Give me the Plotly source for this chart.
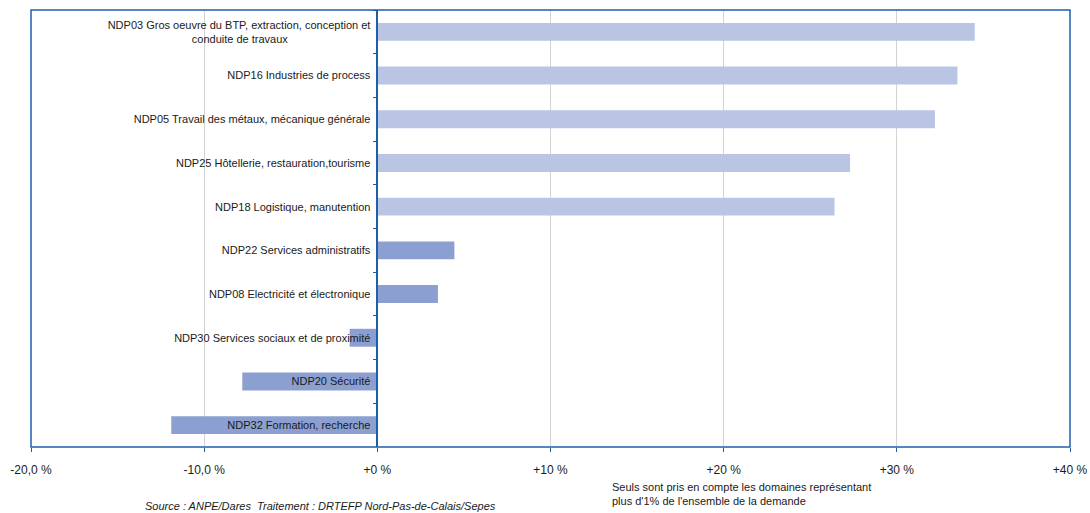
import plotly.graph_objects as go

NB = "\u00a0"
categories = [
    "NDP03 Gros oeuvre du BTP, extraction, conception et<br>conduite de travaux" + NB * 27,
    "NDP16 Industries de process",
    "NDP05 Travail des métaux, mécanique générale",
    "NDP25 Hôtellerie, restauration,tourisme",
    "NDP18 Logistique, manutention",
    "NDP22 Services administratifs",
    "NDP08 Electricité et électronique",
    "NDP30 Services sociaux et de proximité",
    "NDP20 Sécurité",
    "NDP32 Formation, recherche",
]
values = [34.5, 33.5, 32.2, 27.3, 26.4, 4.45, 3.5, -1.6, -7.8, -11.9]
bar_colors = ["#BAC5E3"] * 5 + ["#8BA0D0"] * 5

tick_vals = [-20, -10, 0, 10, 20, 30, 40]
tick_text = ["-20,0 %", "-10,0 %", "+0 %", "+10 %", "+20 %", "+30 %", "+40 %"]

source_text = "Source : ANPE/Dares  Traitement : DRTEFP Nord-Pas-de-Calais/Sepes"
note_text = "Seuls sont pris en compte les domaines représentant<br>plus d'1% de l'ensemble de la demande"

BLUE = "#1F5FAA"
FONT = "Liberation Sans, Arial, sans-serif"

fig = go.Figure(go.Bar(
    x=values,
    y=categories,
    orientation="h",
    marker=dict(color=bar_colors, line=dict(width=0)),
    width=0.41,
    hoverinfo="x+y",
))

fig.update_layout(
    width=1090, height=513,
    margin=dict(l=31, r=20, t=10, b=66, autoexpand=False),
    paper_bgcolor="white",
    plot_bgcolor="white",
    showlegend=False,
    font=dict(family=FONT, size=12, color="#1A1A1A"),
    xaxis=dict(
        range=[-20, 40],
        tickvals=tick_vals,
        ticktext=tick_text,
        showgrid=True,
        gridcolor="#D3D3D3",
        gridwidth=1,
        zeroline=False,
        showline=False,
        ticks="outside",
        ticklen=4,
        tickcolor=BLUE,
        tickwidth=1,
        ticklabelstandoff=8,
        automargin=False,
        tickfont=dict(family=FONT, size=12, color="#1A1A1A"),
        fixedrange=True,
    ),
    yaxis=dict(
        type="category",
        autorange="reversed",
        anchor="free",
        position=1/3,
        showline=True,
        linecolor=BLUE,
        linewidth=1.5,
        ticks="outside",
        tickson="boundaries",
        ticklen=4,
        tickcolor=BLUE,
        showgrid=False,
        zeroline=False,
        automargin=False,
        tickfont=dict(family=FONT, size=11, color="#1A1A1A"),
        ticklabelstandoff=4,
        fixedrange=True,
    ),
    shapes=[dict(
        type="rect", xref="paper", yref="paper",
        x0=0, x1=1, y0=0, y1=1,
        line=dict(color=BLUE, width=1.5),
        layer="above",
    )],
    annotations=[
        dict(text=source_text, xref="paper", yref="paper",
             x=(320 - 31) / 1039, y=-0.136, xanchor="center", yanchor="middle",
             showarrow=False, font=dict(family=FONT, size=11, color="#1A1A1A", style="italic")),
        dict(text=note_text, xref="paper", yref="paper",
             x=(610 - 31) / 1039, y=-0.073, xanchor="left", yanchor="top", align="left",
             showarrow=False, font=dict(family=FONT, size=11, color="#1A1A1A")),
    ],
)

fig.write_html(
    "out.html",
    config={"displayModeBar": False},
    post_script="document.body.style.margin='0px';document.body.style.overflow='hidden';",
)
